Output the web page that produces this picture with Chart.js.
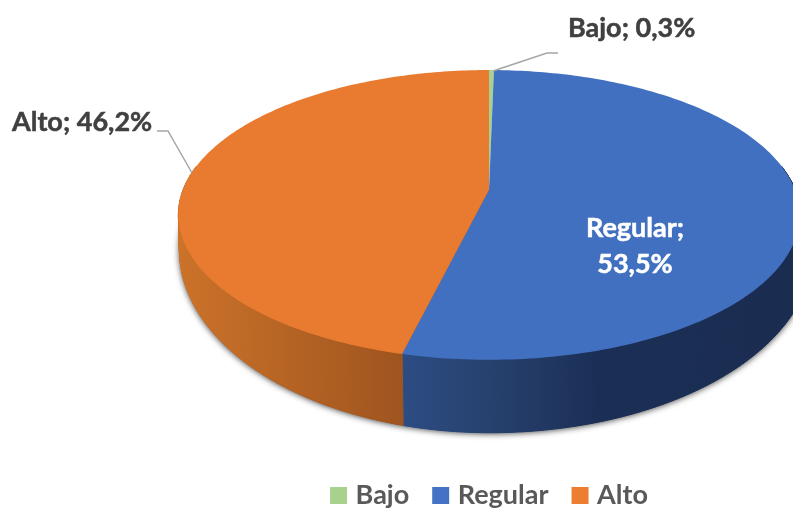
<!DOCTYPE html>
<html><head><meta charset="utf-8">
<style>html,body{margin:0;padding:0;background:#fff;overflow:hidden}canvas{display:block}</style>
<script src="https://cdn.jsdelivr.net/npm/chart.js@4/dist/chart.umd.min.js"></script>
</head><body>
<canvas id="c" width="793" height="512"></canvas>
<script>
const categories = ['Bajo', 'Regular', 'Alto'];
const shares = [0.3, 53.5, 46.2];
const legendColors = ['#A9D18E', '#4472C4', '#ED7D31'];
const topColors = ['#A9D18E', '#4170C1', '#E97B30'];
const FONT = 'Lato, Carlito, sans-serif';

// perspective projection of the pie disc
const P = {cx: 489, cy: 190, c: 306, a: 107.9, k: -0.172};
function rim(theta) {
  const u = Math.sin(theta), v = -Math.cos(theta), w = 1 + P.k * v;
  return {x: P.cx + P.c * u / w, y: (P.a * v + P.cy) / w};
}
function low(p) {
  const dx = p.x - P.cx;
  return {x: p.x + 1 + Math.max(dx, 0) * 0.04, y: 250 + (p.y - 215) * 183 / 145};
}
function sideGradient(ctx, stops) {
  const g = ctx.createLinearGradient(180, 0, 793, 0);
  stops.forEach(s => g.addColorStop(s[0], s[1]));
  return g;
}
const sideStops = {
  1: [[0.36, '#2C4C84'], [0.5, '#27426F'], [0.68, '#1B2F56'], [1, '#1A2C50']],
  2: [[0, '#CC7229'], [0.36, '#9F551F']]
};
const STEP = Math.PI / 180;
const WALL_FROM = 80 * STEP, WALL_TO = 280 * STEP;
function angles(el) {
  return [el.startAngle + Math.PI / 2, el.endAngle + Math.PI / 2];
}
function trace(t0, t1, map) {
  const n = Math.max(2, Math.ceil((t1 - t0) / STEP));
  const pts = [];
  for (let i = 0; i <= n; i++) { const p = rim(t0 + (t1 - t0) * i / n); pts.push(map ? map(p) : p); }
  return pts;
}
function polygon(ctx, pts) {
  ctx.beginPath();
  pts.forEach((p, j) => j ? ctx.lineTo(p.x, p.y) : ctx.moveTo(p.x, p.y));
  ctx.closePath();
}
const pie3d = {
  id: 'pie3d',
  beforeDatasetsDraw(chart) {
    const ctx = chart.ctx, arcs = chart.getDatasetMeta(0).data;
    // soft shadow under the disc
    ctx.save();
    ctx.shadowColor = 'rgba(0,0,0,0.75)';
    ctx.shadowBlur = 6;
    ctx.shadowOffsetY = 1;
    ctx.fillStyle = '#555';
    polygon(ctx, trace(WALL_FROM, WALL_TO, low));
    ctx.fill();
    ctx.restore();
    // side walls
    arcs.forEach((el, i) => {
      if (!sideStops[i]) return;
      const a = angles(el), t0 = Math.max(a[0], WALL_FROM), t1 = Math.min(a[1], WALL_TO);
      const top = trace(t0, t1), bot = trace(t0, t1, low);
      const fill = sideGradient(ctx, sideStops[i]);
      ctx.fillStyle = fill; ctx.strokeStyle = fill; ctx.lineWidth = 1;
      for (let j = 0; j + 1 < top.length; j++) {
        polygon(ctx, [top[j], top[j + 1], bot[j + 1], bot[j]]);
        ctx.fill();
        ctx.stroke();
      }
    });
    // top faces
    arcs.forEach((el, i) => {
      const [t0, t1] = angles(el);
      ctx.fillStyle = topColors[i];
      polygon(ctx, [{x: P.cx, y: P.cy}].concat(trace(t0, t1)));
      ctx.fill();
    });
    return false;
  },
  afterDraw(chart) {
    const ctx = chart.ctx;
    const txt = i => shares[i].toFixed(1).replace('.', ',') + '%';
    const put = (s, x, y, col) => {
      ctx.fillStyle = col; ctx.strokeStyle = col; ctx.lineWidth = 0.5;
      ctx.fillText(s, x, y); ctx.strokeText(s, x, y);
    };
    ctx.save();
    ctx.strokeStyle = '#A6A6A6';
    ctx.lineWidth = 1.5;
    ctx.beginPath();
    ctx.moveTo(493, 71); ctx.lineTo(547, 53); ctx.lineTo(558, 53);
    ctx.moveTo(192, 173); ctx.lineTo(168, 131); ctx.lineTo(157, 131);
    ctx.stroke();
    ctx.font = 'bold 27px ' + FONT;
    ctx.textBaseline = 'middle';
    ctx.textAlign = 'left';
    put(categories[0] + '; ' + txt(0), 568, 28, '#404040');
    put(categories[2] + '; ' + txt(2), 12, 122, '#404040');
    ctx.textAlign = 'center';
    put(categories[1] + ';', 635, 228, '#FFFFFF');
    put(txt(1), 635, 264, '#FFFFFF');
    ctx.restore();
  }
};
new Chart(document.getElementById('c'), {
  type: 'pie',
  data: {labels: categories, datasets: [{data: shares, backgroundColor: legendColors, borderWidth: 0}]},
  plugins: [pie3d],
  options: {
    responsive: false,
    animation: false,
    events: [],
    layout: {padding: {left: 190, bottom: -7}},
    plugins: {
      tooltip: {enabled: false},
      legend: {
        position: 'bottom',
        labels: {
          boxWidth: 7, boxHeight: 7, padding: 28,
          color: '#595959',
          font: {family: FONT, size: 27, weight: 'bold'},
          generateLabels(chart) {
            return categories.map((name, i) => ({
              text: name, fillStyle: legendColors[i], strokeStyle: legendColors[i],
              fontColor: '#595959', lineWidth: 10, hidden: false, index: i
            }));
          }
        }
      }
    }
  }
});
</script>
</body></html>
